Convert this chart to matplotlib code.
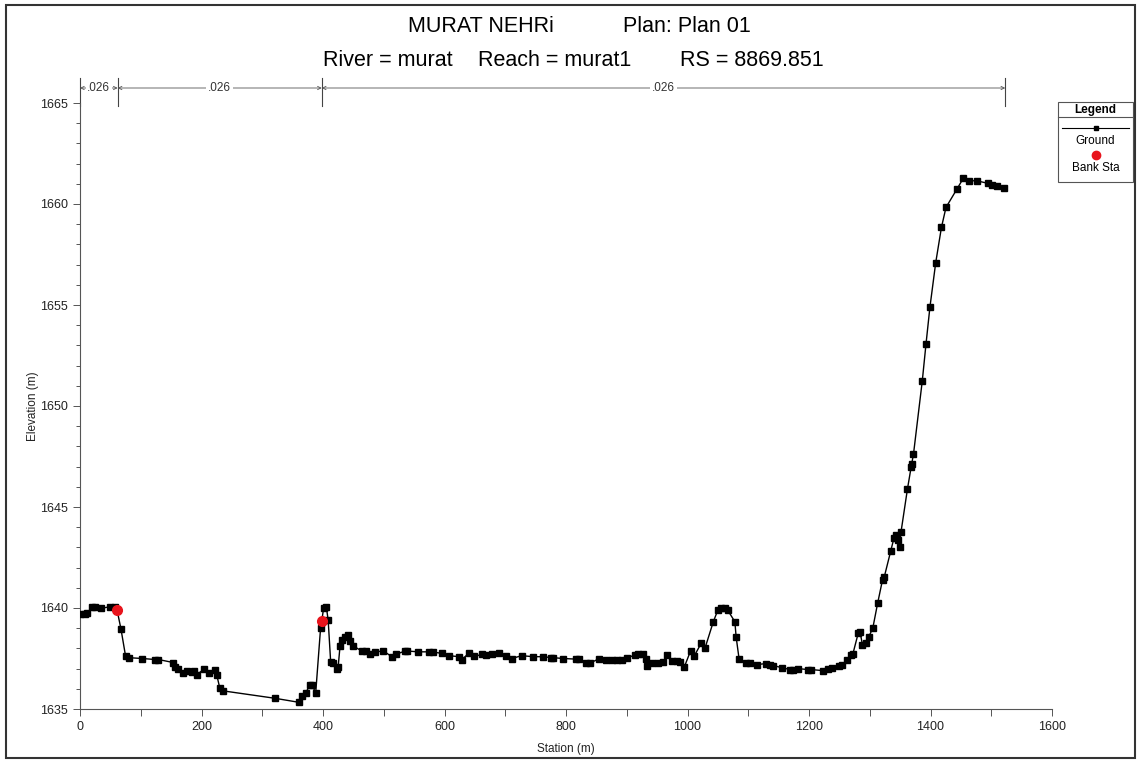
import matplotlib
matplotlib.use("Agg")
import matplotlib.pyplot as plt
from matplotlib import font_manager
from matplotlib.lines import Line2D
from matplotlib.patches import Rectangle

# ---------------- data ----------------
station = [0, 8, 12, 20, 24, 34, 49, 57, 61, 67.5, 75, 80.7, 102.6, 123.5, 129,
           153.6, 156, 162, 170, 176, 184, 188, 192, 204, 213, 222, 225, 230, 235,
           321, 360.5, 366, 371.5, 378.6, 382, 388, 396, 398, 401, 405.5, 408.5,
           412.6, 417, 422.5, 425, 428, 431.5, 436, 440.6, 444, 450, 463.7, 471,
           477, 485.6, 499, 513, 519.6, 535, 539, 557, 574.5, 581, 596.4, 607, 624,
           628, 640, 649, 661, 669, 678, 690, 701, 711, 727, 746, 762.6, 776, 779,
           795.6, 816, 821, 833, 839, 855, 866, 875, 884, 891.6, 901, 913.6, 919,
           926, 931, 933, 942, 952, 960, 967, 974, 982, 988, 995, 1005, 1011, 1023,
           1029, 1042.5, 1050, 1055, 1062, 1066, 1078, 1080, 1085, 1097, 1103, 1115,
           1129, 1135, 1141, 1155, 1169, 1174, 1182, 1199, 1204, 1223.5, 1232, 1238,
           1250, 1254, 1263, 1269, 1272, 1281, 1284, 1288, 1294, 1298, 1305, 1313,
           1321, 1324, 1334.5, 1340, 1343, 1347, 1349, 1351.4, 1362, 1368, 1369,
           1372, 1386.5, 1392.6, 1399, 1408.6, 1418, 1425.5, 1444, 1454, 1464, 1476,
           1495, 1502, 1509, 1521.5]
elevation = [1639.7, 1639.7, 1639.75, 1640.05, 1640.05, 1639.98, 1640.06, 1640.05,
             1639.9, 1638.95, 1637.62, 1637.54, 1637.5, 1637.45, 1637.45, 1637.3,
             1637.1, 1637.0, 1636.77, 1636.88, 1636.85, 1636.9, 1636.68, 1636.98,
             1636.8, 1636.95, 1636.7, 1636.05, 1635.9, 1635.53, 1635.33, 1635.64,
             1635.8, 1636.19, 1636.19, 1635.8, 1639.0, 1639.36, 1640.0, 1640.05,
             1639.4, 1637.34, 1637.3, 1637.0, 1637.1, 1638.1, 1638.4, 1638.55,
             1638.66, 1638.35, 1638.12, 1637.87, 1637.85, 1637.7, 1637.8, 1637.89,
             1637.59, 1637.7, 1637.87, 1637.87, 1637.83, 1637.83, 1637.82, 1637.75,
             1637.64, 1637.59, 1637.43, 1637.76, 1637.6, 1637.7, 1637.65, 1637.72,
             1637.75, 1637.64, 1637.5, 1637.64, 1637.59, 1637.59, 1637.54, 1637.54,
             1637.5, 1637.47, 1637.5, 1637.29, 1637.26, 1637.5, 1637.45, 1637.43,
             1637.42, 1637.45, 1637.54, 1637.67, 1637.7, 1637.7, 1637.5, 1637.13,
             1637.29, 1637.29, 1637.33, 1637.67, 1637.39, 1637.4, 1637.32, 1637.1,
             1637.87, 1637.62, 1638.28, 1638.03, 1639.32, 1639.9, 1640.0, 1640.0,
             1639.9, 1639.32, 1638.58, 1637.46, 1637.26, 1637.26, 1637.2, 1637.25,
             1637.2, 1637.15, 1637.05, 1636.95, 1636.95, 1637.0, 1636.95, 1636.95,
             1636.9, 1636.98, 1637.05, 1637.13, 1637.18, 1637.43, 1637.67, 1637.7,
             1638.75, 1638.83, 1638.17, 1638.25, 1638.55, 1639.0, 1640.24, 1641.39,
             1641.55, 1642.82, 1643.48, 1643.6, 1643.37, 1643.04, 1643.75, 1645.88,
             1646.96, 1647.13, 1647.62, 1651.25, 1653.07, 1654.88, 1657.1, 1658.84,
             1659.83, 1660.76, 1661.27, 1661.15, 1661.15, 1661.02, 1660.94, 1660.89,
             1660.78]

bank_station = [61, 398]
bank_elevation = [1639.9, 1639.36]

n_breaks = [0, 62, 398, 1523]
n_values = [".026", ".026", ".026"]

title_line1 = ["MURAT NEHRi", "Plan: Plan 01"]
title_line2 = ["River = murat", "Reach = murat1", "RS = 8869.851"]

x_ticks = [0, 200, 400, 600, 800, 1000, 1200, 1400, 1600]
y_ticks = [1635, 1640, 1645, 1650, 1655, 1660, 1665]

# ---------------- fonts ----------------
names = {f.name for f in font_manager.fontManager.ttflist}
narrow = "Liberation Sans Narrow" if "Liberation Sans Narrow" in names else "Liberation Sans"
plt.rcParams["font.family"] = ["Liberation Sans", "DejaVu Sans"]

W, H = 1137, 760
fig = plt.figure(figsize=(W / 100, H / 100), dpi=100)

def fx(px):
    return px / W

def fy(py):
    return 1 - py / H

ax = fig.add_axes([fx(80), fy(709), fx(1052) - fx(80), fy(103) - fy(709)])
ax.set_xlim(0, 1600)
ax.set_ylim(1635, 1665)

ax.plot(station, elevation, color="black", lw=1.0, marker="s", markersize=4,
        markerfacecolor="black", markeredgecolor="black", zorder=3)
ax.plot(bank_station, bank_elevation, linestyle="none", marker="o", markersize=7,
        color="#e8141c", zorder=4)

for s in ["top", "right"]:
    ax.spines[s].set_visible(False)
for s in ["left", "bottom"]:
    ax.spines[s].set_color("#555555")
    ax.spines[s].set_linewidth(0.8)

ax.set_xticks(x_ticks)
ax.set_xticks(range(0, 1601, 100), minor=True)
ax.set_yticks(y_ticks)
ax.set_yticks(range(1635, 1666), minor=True)
ax.tick_params(which="both", direction="out", color="#555555", width=0.7)
ax.tick_params(which="major", length=5)
ax.tick_params(which="minor", length=3)
ax.tick_params(axis="x", which="minor", length=5)
for lab in ax.get_xticklabels() + ax.get_yticklabels():
    lab.set_fontfamily(narrow)
    lab.set_fontsize(9)
    lab.set_color("#222222")

# axis titles
fig.text(fx(566), fy(749), "Station (m)", ha="center", va="center", fontsize=8.5,
         family=narrow, color="#222222")
fig.text(fx(33), fy(406), "Elevation (m)", ha="center", va="center", fontsize=8.5,
         family=narrow, color="#222222", rotation=90)

# Manning's n annotations above the plot
y_line = 1665 + (103 - 88) / 20.2
y_top = 1665 + (103 - 78) / 20.2
y_bot = 1665 + (103 - 106) / 20.2
for b in n_breaks:
    ax.plot([b, b], [y_bot, y_top], color="#444444", lw=0.8, clip_on=False)
for a, b, v in zip(n_breaks[:-1], n_breaks[1:], n_values):
    ax.annotate("", xy=(a, y_line), xytext=(b, y_line), annotation_clip=False,
                arrowprops=dict(arrowstyle="<->", color="#555555", lw=0.6,
                                shrinkA=0, shrinkB=0, mutation_scale=6))
    ax.text((a + b) / 2, y_line, v, ha="center", va="center", fontsize=8.5,
            family=narrow, color="#333333", clip_on=False,
            bbox=dict(boxstyle="square,pad=0.15", fc="white", ec="none"))

# Title
fig.text(fx(408), fy(26), title_line1[0], fontsize=15.5, va="center", ha="left")
fig.text(fx(623), fy(26), title_line1[1], fontsize=15.5, va="center", ha="left")
fig.text(fx(323), fy(60), title_line2[0], fontsize=15.5, va="center", ha="left")
fig.text(fx(478), fy(60), title_line2[1], fontsize=15.5, va="center", ha="left")
fig.text(fx(680), fy(60), title_line2[2], fontsize=15.5, va="center", ha="left")

# Legend box
fig.patches.append(Rectangle((fx(1058), fy(182)), fx(1133) - fx(1058), fy(102) - fy(182),
                             transform=fig.transFigure, fill=False, ec="#555555", lw=0.8))
cx = fx(1095.5)
fig.text(cx, fy(110), "Legend", ha="center", va="center", fontsize=8.5, weight="bold", family=narrow)
fig.lines.append(Line2D([fx(1058), fx(1133)], [fy(117), fy(117)], transform=fig.transFigure,
                        color="#555555", lw=0.8))
fig.lines.append(Line2D([fx(1062), fx(1129)], [fy(128), fy(128)], transform=fig.transFigure,
                        color="black", lw=0.8))
fig.lines.append(Line2D([cx], [fy(128)], transform=fig.transFigure, color="black",
                        marker="s", markersize=3.5, linestyle="none"))
fig.text(cx, fy(141), "Ground", ha="center", va="center", fontsize=8.5, family=narrow)
fig.lines.append(Line2D([cx], [fy(155)], transform=fig.transFigure, color="#e8141c",
                        marker="o", markersize=6, linestyle="none"))
fig.text(cx, fy(168), "Bank Sta", ha="center", va="center", fontsize=8.5, family=narrow)

# outer frame
fig.patches.append(Rectangle((fx(6), fy(758)), fx(1135) - fx(6), fy(5) - fy(758),
                             transform=fig.transFigure, fill=False, ec="#333333", lw=1.5))

fig.savefig("out.png", dpi=100)
